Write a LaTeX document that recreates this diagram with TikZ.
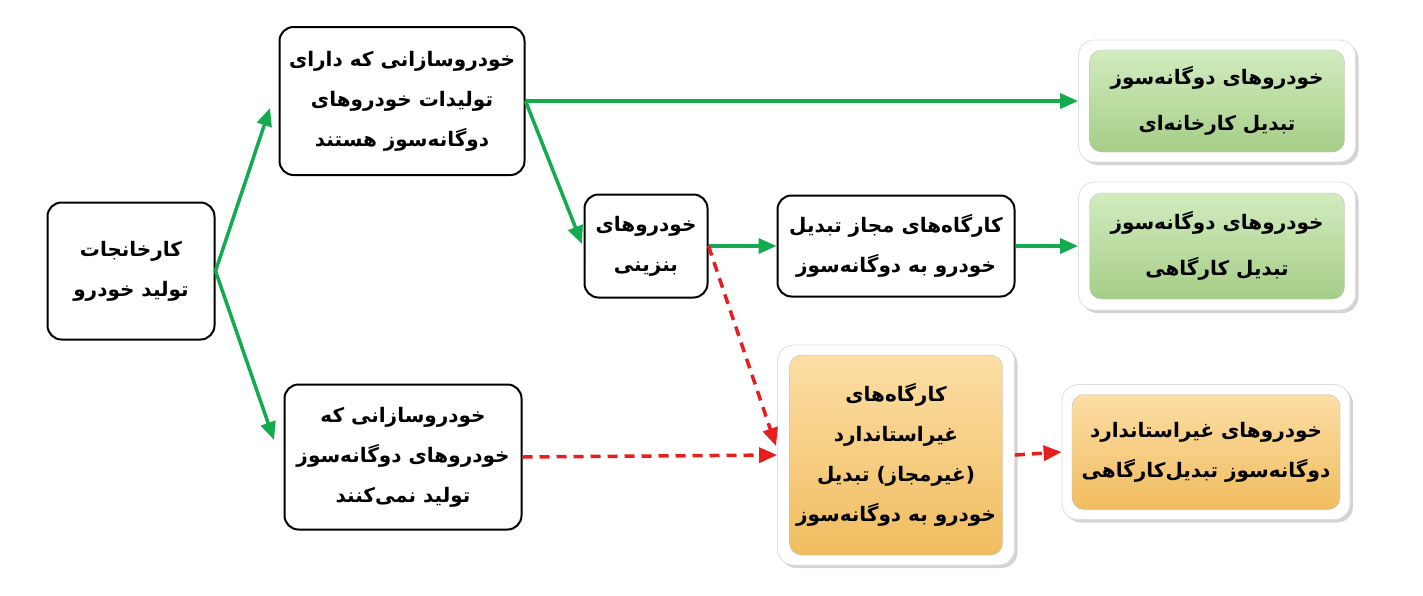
\documentclass[tikz,border=0pt]{standalone}
\usepackage{fontspec}
\TeXXeTstate=1
\newfontfamily\arabicfont[Script=Arabic]{DejaVu Sans}
\usetikzlibrary{arrows.meta,shadows}
\newcommand{\fa}[1]{\beginR #1\endR}
\definecolor{grn}{RGB}{20,170,80}
\definecolor{rd}{RGB}{230,30,30}
\tikzset{
 wbox/.style={draw=black,line width=2pt,rounded corners=14pt,fill=white,align=center,
   font=\arabicfont\bfseries\fontsize{20}{40}\selectfont},
 frame/.style={draw=gray!25,line width=0.8pt,rounded corners=16pt,fill=white,
   drop shadow={shadow xshift=3pt,shadow yshift=-3pt,opacity=0.35}},
 gbox/.style={draw=gray!50,rounded corners=12pt,top color=green!12!white!85!olive,bottom color={rgb,255:red,165;green,205;blue,135},align=center,
   font=\arabicfont\bfseries\fontsize{20}{46}\selectfont},
 obox/.style={draw=gray!50,rounded corners=12pt,top color={rgb,255:red,252;green,222;blue,165},bottom color={rgb,255:red,240;green,188;blue,95},align=center,
   font=\arabicfont\bfseries\fontsize{20}{40}\selectfont},
 ga/.style={grn,line width=3.5pt,-{Triangle[length=18pt,width=15pt]}},
 ra/.style={rd,line width=3.5pt,dashed,dash pattern=on 10pt off 7pt,-{Triangle[length=18pt,width=15pt]}}
}
\begin{document}
\begin{tikzpicture}[x=1pt,y=-1pt]
\useasboundingbox (0,0) rectangle (1423,595);
\node[wbox,minimum width=167pt,minimum height=137pt] (A) at (131,271) {\fa{کارخانجات}\\\fa{تولید خودرو}};
\node[wbox,minimum width=245pt,minimum height=148pt] (B) at (402,101) {\fa{خودروسازانی که دارای}\\\fa{تولیدات خودروهای}\\\fa{دوگانه‌سوز هستند}};
\node[wbox,minimum width=237pt,minimum height=145pt] (C) at (403,457) {\fa{خودروسازانی که}\\\fa{خودروهای دوگانه‌سوز}\\\fa{تولید نمی‌کنند}};
\node[wbox,minimum width=123pt,minimum height=103pt] (D) at (646,246) {\fa{خودروهای}\\\fa{بنزینی}};
\node[wbox,minimum width=237pt,minimum height=101pt] (E) at (896,246) {\fa{کارگاه‌های مجاز تبدیل}\\\fa{خودرو به دوگانه‌سوز}};
\node[frame,minimum width=277pt,minimum height=122pt] (Fo) at (1217,101) {};
\node[gbox,minimum width=255pt,minimum height=102pt] (F) at (1217,101) {\fa{خودروهای دوگانه‌سوز}\\\fa{تبدیل کارخانه‌ای}};
\node[frame,minimum width=277pt,minimum height=128pt] (Go) at (1217,246) {};
\node[gbox,minimum width=255pt,minimum height=106pt] (G) at (1217,246) {\fa{خودروهای دوگانه‌سوز}\\\fa{تبدیل کارگاهی}};
\node[frame,minimum width=237pt,minimum height=220pt] (Ho) at (896,455) {};
\node[obox,minimum width=213pt,minimum height=200pt] (H) at (896,455) {\fa{کارگاه‌های}\\\fa{غیراستاندارد}\\\fa{(غیرمجاز) تبدیل}\\\fa{خودرو به دوگانه‌سوز}};
\node[frame,minimum width=288pt,minimum height=135pt] (Io) at (1206,452) {};
\node[obox,minimum width=268pt,minimum height=115pt] (I) at (1206,452) {\fa{خودروهای غیراستاندارد}\\\fa{دوگانه‌سوز تبدیل‌کارگاهی}};
\coordinate (a1) at (A.east);
\draw[ga] (a1) -- (270,108);
\draw[ga] (a1) -- (274,440);
\draw[ga] (B.east) -- (Fo.west);
\draw[ga] (B.east) -- (582,244);
\draw[ga] (D.east) -- (E.west);
\draw[ga] (E.east) -- (Go.west);
\draw[ra] (D.east) -- (776,446);
\draw[ra] (C.east) -- (Ho.west);
\draw[ra] (Ho.east) -- (Io.west);
\end{tikzpicture}
\end{document}
